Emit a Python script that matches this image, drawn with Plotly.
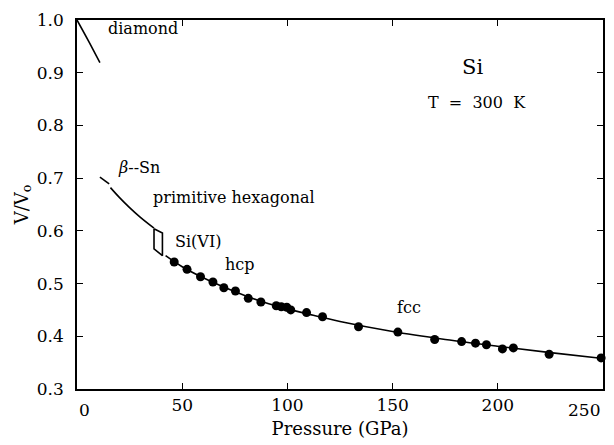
import plotly.graph_objects as go

# ---- data ----
# measured V/V0 points (hcp and fcc), pressure in GPa
p_meas = [46.2, 52.3, 58.7, 64.6, 69.8, 75.3, 81.4, 87.4, 94.7, 97.1, 99.7, 101.6,
          109.1, 116.7, 133.8, 152.5, 170.0, 182.8, 189.4, 194.6, 202.2, 207.4, 224.4, 249.1]
v_meas = [0.541, 0.527, 0.513, 0.503, 0.492, 0.486, 0.472, 0.465, 0.458, 0.456, 0.455, 0.450,
          0.445, 0.437, 0.418, 0.408, 0.394, 0.390, 0.387, 0.384, 0.376, 0.378, 0.366, 0.359]

# fitted curves
p_diamond = [0.0, 5.5, 10.9]
v_diamond = [1.0, 0.960, 0.919]

p_betasn = [10.9, 15.3]
v_betasn = [0.702, 0.689]

p_phex = [15.9, 20.0, 25.0, 30.0, 36.6]
v_phex = [0.682, 0.664, 0.644, 0.626, 0.605]

p_si6 = [36.6, 40.6, 40.6, 36.6, 36.6]
v_si6 = [0.604, 0.596, 0.553, 0.566, 0.604]

p_hcpfcc = [42.1, 50, 60, 70, 80, 90, 100, 110, 125, 150, 175, 200, 225, 250]
v_hcpfcc = [0.553, 0.532, 0.511, 0.493, 0.477, 0.463, 0.452, 0.442, 0.428, 0.409, 0.394, 0.381, 0.369, 0.358]

x_ticks = [0, 50, 100, 150, 200, 250]
x_tick_labels = ["0", "50", "100", "150", "200", "250"]
y_ticks = [0.3, 0.4, 0.5, 0.6, 0.7, 0.8, 0.9, 1.0]
y_tick_labels = ["0.3", "0.4", "0.5", "0.6", "0.7", "0.8", "0.9", "1.0"]

# text labels (text, pressure, V/V0)
phase_labels = [
    ("diamond", 31.5, 0.983),
    ("<i>β</i>--Sn", 29.5, 0.721),
    ("primitive hexagonal", 74.8, 0.664),
    ("Si(VI)", 57.5, 0.579),
    ("hcp", 77.7, 0.536),
    ("fcc", 157.7, 0.455),
]

FONT = "DejaVu Serif"
line_style = dict(color="black", width=1.6)

fig = go.Figure()
for px, py, shp in [(p_diamond, v_diamond, "spline"), (p_betasn, v_betasn, "linear"),
                    (p_phex, v_phex, "spline"), (p_si6, v_si6, "linear"),
                    (p_hcpfcc, v_hcpfcc, "spline")]:
    fig.add_trace(go.Scatter(x=px, y=py, mode="lines", line=dict(line_style, shape=shp),
                             showlegend=False, hoverinfo="skip"))
fig.add_trace(go.Scatter(x=p_meas, y=v_meas, mode="markers",
                         marker=dict(color="black", size=9, line=dict(width=0)),
                         cliponaxis=False, showlegend=False))

ann = []
for t, x, y in phase_labels:
    ann.append(dict(text=t, x=x, y=y, xref="x", yref="y", showarrow=False,
                    font=dict(family=FONT, size=16, color="black")))
ann.append(dict(text="Si", x=188, y=0.911, xref="x", yref="y", showarrow=False,
                font=dict(family=FONT, size=21, color="black")))
ann.append(dict(text="T\u00a0\u00a0=\u00a0\u00a0300\u00a0\u00a0K", x=190, y=0.843, xref="x", yref="y",
                showarrow=False, font=dict(family=FONT, size=16, color="black")))
# end x tick labels drawn inside the frame span like the original
ann.append(dict(text=x_tick_labels[0], x=x_ticks[0], y=0, xref="x", yref="paper",
                xanchor="left", yanchor="top", xshift=0, yshift=-9, showarrow=False,
                font=dict(family=FONT, size=17, color="black")))
ann.append(dict(text=x_tick_labels[-1], x=x_ticks[-1], y=0, xref="x", yref="paper",
                xanchor="right", yanchor="top", xshift=-1, yshift=-9, showarrow=False,
                font=dict(family=FONT, size=17, color="black")))

axis_common = dict(showline=True, linecolor="black", linewidth=1.5, mirror="ticks",
                   ticks="inside", ticklen=6, tickwidth=1.2, tickcolor="black",
                   showgrid=False, zeroline=False,
                   tickfont=dict(family=FONT, size=17, color="black"))

fig.update_layout(
    width=614, height=445,
    margin=dict(l=77, r=9, t=20, b=54),
    paper_bgcolor="white", plot_bgcolor="white",
    annotations=ann,
    xaxis=dict(range=[0, 250], tickvals=x_ticks[1:-1],
               ticktext=x_tick_labels[1:-1],
               title=dict(text="Pressure (GPa)", font=dict(family=FONT, size=18, color="black"),
                          standoff=8),
               **axis_common),
    yaxis=dict(range=[0.3, 1.0], tickvals=y_ticks, ticktext=y_tick_labels,
               ticklabelstandoff=8,
               title=dict(text="V/V<sub>o</sub>", font=dict(family=FONT, size=18, color="black"),
                          standoff=4),
               **axis_common),
)

fig.write_html("out.html")
